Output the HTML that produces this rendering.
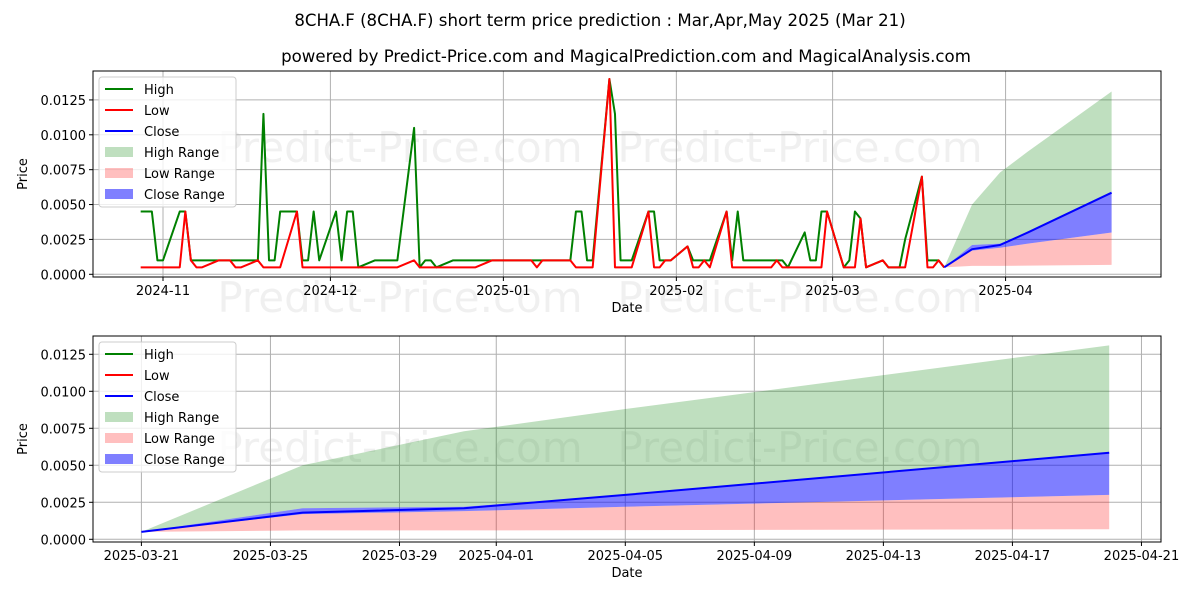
<!DOCTYPE html>
<html><head><meta charset="utf-8">
<style>
body{margin:0;background:#fff;}
svg{display:block;font-family:"DejaVu Sans","Liberation Sans",sans-serif;}
</style></head>
<body>
<svg id="chart" width="1200" height="600" viewBox="0 0 1200 600">
<text x="600" y="26" text-anchor="middle" font-size="16.6" fill="#000">8CHA.F (8CHA.F) short term price prediction : Mar,Apr,May 2025 (Mar 21)</text>
<text x="626" y="62" text-anchor="middle" font-size="16.6" fill="#000">powered by Predict-Price.com and MagicalPrediction.com and MagicalAnalysis.com</text>
<g id="top"></g>
<g id="bot"></g>
</svg>
<script>
// history data: days since 2024-11-01
const highDays=[-4,-2,-1,0,3,4,5,17,18,19,20,21,24,25,26,27,28,31,32,33,34,35,38,42,45,46,47,48,49,52,59,73,74,75,76,77,80,81,82,84,87,88,89,91,94,95,98,101,102,103,104,111,112,115,116,117,118,119,122,123,124,125,126,129,130,132,133,136,137,139,140];
const highVals=[0.0045,0.0045,0.001,0.001,0.0045,0.0045,0.001,0.001,0.0115,0.001,0.001,0.0045,0.0045,0.001,0.001,0.0045,0.001,0.0045,0.001,0.0045,0.0045,0.0005,0.001,0.001,0.0105,0.0005,0.001,0.001,0.0005,0.001,0.001,0.001,0.0045,0.0045,0.001,0.001,0.014,0.0115,0.001,0.001,0.0045,0.0045,0.001,0.001,0.002,0.001,0.001,0.0045,0.001,0.0045,0.001,0.001,0.0005,0.003,0.001,0.001,0.0045,0.0045,0.0005,0.001,0.0045,0.004,0.0005,0.001,0.0005,0.0005,0.0025,0.007,0.001,0.001,0.0005];
const lowDays=[-4,3,4,5,6,7,10,12,13,14,17,18,21,24,25,42,45,46,56,59,66,67,68,73,74,77,80,81,84,87,88,89,90,91,94,95,96,97,98,101,102,109,110,111,118,119,122,124,125,126,129,130,133,136,137,138,139,140];
const lowVals=[0.0005,0.0005,0.0045,0.001,0.0005,0.0005,0.001,0.001,0.0005,0.0005,0.001,0.0005,0.0005,0.0045,0.0005,0.0005,0.001,0.0005,0.0005,0.001,0.001,0.0005,0.001,0.001,0.0005,0.0005,0.014,0.0005,0.0005,0.0045,0.0005,0.0005,0.001,0.001,0.002,0.0005,0.0005,0.001,0.0005,0.0045,0.0005,0.0005,0.001,0.0005,0.0005,0.0045,0.0005,0.0005,0.004,0.0005,0.001,0.0005,0.0005,0.007,0.0005,0.0005,0.001,0.0005];
// forecast: days since 2025-03-21
const fcDays=[0,5,10,15,30];
const fcHighUp=[0.0005,0.0050,0.0073,0.0088,0.0131];
const fcClose=[0.0005,0.0018,0.0021,0.0030,0.00585];
const fcCloseUp=[0.0005,0.0021,0.0022,0.0030,0.00585];
const fcCloseLo=[0.0005,0.0017,0.0019,0.0022,0.0030];
const fcLowLo=[0.0005,0.0006,0.0006,0.00062,0.00068];
const yTicks=[0,0.0025,0.005,0.0075,0.01,0.0125];
const yTickLabels=["0.0000","0.0025","0.0050","0.0075","0.0100","0.0125"];
const topTickDays=[0,30,61,92,120,151];
const topTickLabels=["2024-11","2024-12","2025-01","2025-02","2025-03","2025-04"];
const botTickDays=[0,4,8,11,15,19,23,27,31];
const botTickLabels=["2025-03-21","2025-03-25","2025-03-29","2025-04-01","2025-04-05","2025-04-09","2025-04-13","2025-04-17","2025-04-21"];
const FC0=140; // 2025-03-21 in history days

const NS="http://www.w3.org/2000/svg";
function mk(parent,tag,attrs,text){const e=document.createElementNS(NS,tag);for(const k in attrs)e.setAttribute(k,attrs[k]);if(text!==undefined)e.textContent=text;parent.appendChild(e);return e;}

function panel(g,P,xs,ys,ticksD,ticksL,legendY,isTop){
  const L=93,R=1161;
  const wmY=isTop?[162,312]:[462];
  wmY.forEach((wy,i)=>{[400,800].forEach((wx,j)=>{
    const t=mk(g,'text',{x:wx,y:wy,'text-anchor':'middle','font-size':42,fill:'#000','fill-opacity':0.06},'Predict-Price.com');
    
    
  });});
  ticksD.forEach((d,i)=>{const x=xs(d);const l=mk(g,'line',{x1:x,x2:x,y1:P.top,y2:P.bot,stroke:'#b0b0b0','stroke-width':1});
    
    mk(g,'line',{x1:x,x2:x,y1:P.bot,y2:P.bot+4,stroke:'#000'});
    const t=mk(g,'text',{x:x,y:P.bot+18,'text-anchor':'middle','font-size':13},ticksL[i]);
    });
  yTicks.forEach((v,i)=>{const y=ys(v);const l=mk(g,'line',{x1:L,x2:R,y1:y,y2:y,stroke:'#b0b0b0','stroke-width':1});
    
    mk(g,'line',{x1:L-4,x2:L,y1:y,y2:y,stroke:'#000'});
    const t=mk(g,'text',{x:L-7,y:y+5,'text-anchor':'end','font-size':13},yTickLabels[i]);
    });
  function band(up,lo,color,op,name){
    let pts=fcDays.map((d,i)=>xs(FC0+d)+','+ys(up[i]));
    pts=pts.concat(fcDays.map((d,i)=>xs(FC0+d)+','+ys(lo[i])).reverse());
    const p=mk(g,'polygon',{points:pts.join(' '),fill:color,'fill-opacity':op});
    }
  band(fcHighUp,fcCloseUp,'#008000',0.25,'high-range-band');
  band(fcCloseLo,fcLowLo,'#ff0000',0.25,'low-range-band');
  band(fcCloseUp,fcCloseLo,'#0000ff',0.5,'close-range-band');
  function line(days,vals,color,name){
    const p=mk(g,'polyline',{points:days.map((d,i)=>xs(d)+','+ys(vals[i])).join(' '),fill:'none',stroke:color,'stroke-width':2,'stroke-linejoin':'round'});
    }
  if(isTop){line(highDays,highVals,'#008000','high-line');line(lowDays,lowVals,'#ff0000','low-line');}
  line(fcDays.map(d=>FC0+d),fcClose,'#0000ff','close-line');
  const fr=mk(g,'rect',{x:L,y:P.top,width:R-L,height:P.bot-P.top,fill:'none',stroke:'#000','stroke-width':1});
  
  const xl=mk(g,'text',{x:627,y:P.bot+35,'text-anchor':'middle','font-size':13},'Date');
  
  const cy=(P.top+P.bot)/2;
  const yl=mk(g,'text',{x:27,y:cy,'text-anchor':'middle','font-size':13,transform:'rotate(-90 27 '+cy+')'},'Price');
  
  const lg=mk(g,'g',{});
  
  mk(lg,'rect',{x:99,y:legendY,width:137,height:130,rx:3,fill:'#fff','fill-opacity':0.8,stroke:'#ccc'});
  const items=[['High','#008000',1,'line'],['Low','#ff0000',1,'line'],['Close','#0000ff',1,'line'],['High Range','#008000',0.25,'box'],['Low Range','#ff0000',0.25,'box'],['Close Range','#0000ff',0.5,'box']];
  items.forEach((it,i)=>{const y=legendY+12+i*21;
    const e=mk(lg,'g',{});
    
    if(it[3]==='line')mk(e,'line',{x1:105,x2:133,y1:y,y2:y,stroke:it[1],'stroke-width':2});
    else mk(e,'rect',{x:105,y:y-5,width:28,height:10,fill:it[1],'fill-opacity':it[2]});
    mk(e,'text',{x:144,y:y+5,'font-size':13},it[0]);});
}
const T={top:71,bot:277}, B={top:336,bot:542};
panel(document.getElementById('top'),T,d=>163+5.58*d,v=>274.3-v*13950,topTickDays,topTickLabels,77,true);
panel(document.getElementById('bot'),B,d=>141.4+32.26*(d-FC0),v=>539.3-v*14800,botTickDays.map(d=>d+FC0),botTickLabels,342,false);
</script>
</body></html>
